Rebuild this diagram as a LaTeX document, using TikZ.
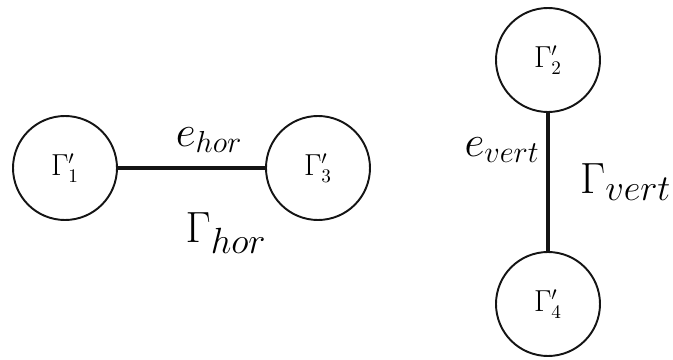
\documentclass[tikz,border=0pt]{standalone}
\usepackage{amsmath,amssymb}
\usepackage{tikz}
\usetikzlibrary{positioning,calc}
\definecolor{ink}{RGB}{20,20,20}
\tikzset{
  comp/.style={circle,draw=ink,line width=1.1pt,minimum size=20.8mm,inner sep=0pt,font=\fontsize{16}{19}\selectfont},
  edge/.style={draw=ink,line width=2.3pt},
  elab/.style={font=\fontsize{26}{30}\selectfont},
  glab/.style={font=\fontsize{29}{34}\selectfont},
}
\begin{document}
\begin{tikzpicture}[x=0.2mm,y=-0.2mm]
  \useasboundingbox (0,0) rectangle (673,360);
  % horizontal piece
  \node[comp] (c1) at (65,168){$\Gamma'_1$};
  \node[comp] (c3) at (318,168){$\Gamma'_3$};
  \draw[edge] (c1)--(c3);
  \node[elab] (ehor) at (209,140){$e_{hor}$};
  \node[glab] (ghor) at (226,233){$\Gamma_{hor}$};

  % vertical piece
  \node[comp] (c2) at (548,60){$\Gamma'_2$};
  \node[comp] (c4) at (548,304){$\Gamma'_4$};
  \draw[edge] (c2)--(c4);
  \node[elab] (evert) at (502,150){$e_{vert}$};
  \node[glab,anchor=west,inner sep=1pt] (gvert) at (578,182){$\Gamma_{vert}$};
\end{tikzpicture}
\end{document}
